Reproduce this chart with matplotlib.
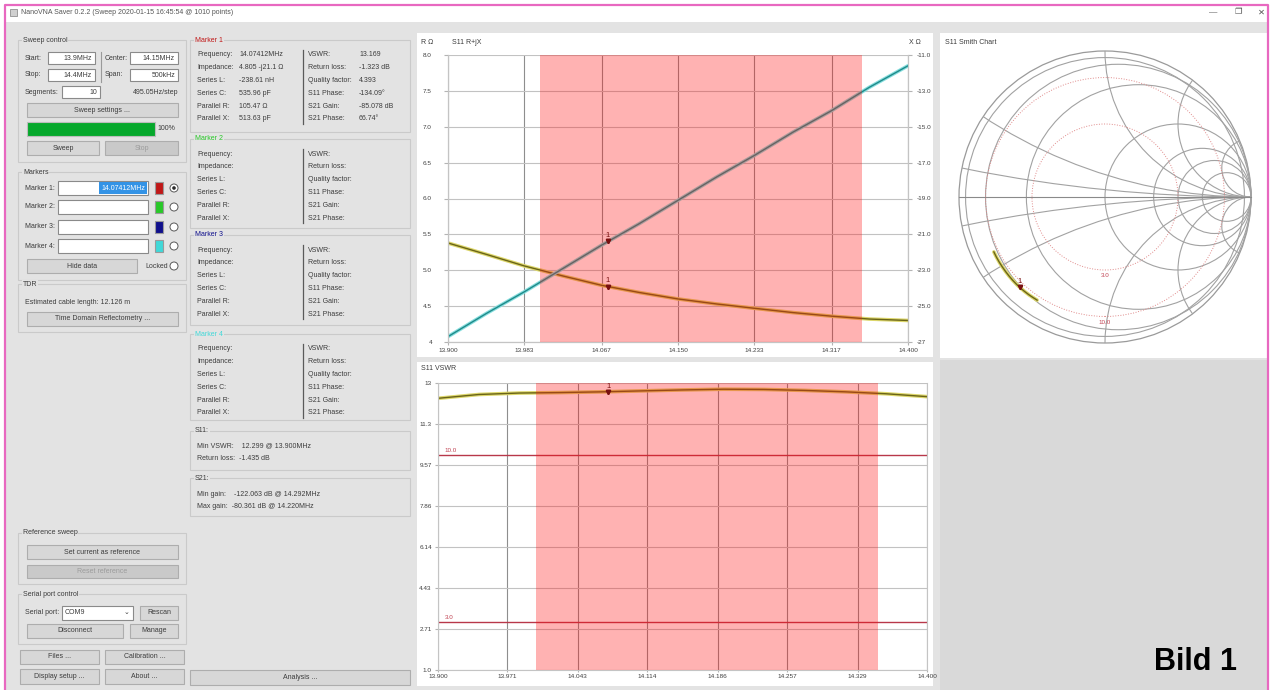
import numpy as np
import matplotlib
matplotlib.use('Agg')
import matplotlib.pyplot as plt
from matplotlib.patches import Rectangle, Circle

plt.rcParams['font.family'] = ['Liberation Sans', 'DejaVu Sans']

W, H = 1271, 690

# ---- sweep data (MHz, ohm) ----
freq_mhz = [13.900, 13.942, 13.983, 14.025, 14.067, 14.108, 14.150,
            14.192, 14.233, 14.275, 14.317, 14.358, 14.400]
r_ohm = [5.38, 5.22, 5.06, 4.92, 4.79, 4.69, 4.60, 4.53, 4.47, 4.41, 4.36, 4.32, 4.30]
x_ohm = [-26.7, -25.4, -24.2, -22.9, -21.6, -20.4, -19.1, -17.8, -16.6, -15.3, -14.1, -12.8, -11.6]
vswr = [12.36, 12.52, 12.58, 12.60, 12.63, 12.67, 12.71, 12.74, 12.73, 12.69, 12.63, 12.55, 12.43]

marker_mhz = 14.074
band_mhz = [14.000, 14.350]
vswr_limits = [10.0, 3.0]
vswr_limit_labels = ['10.0', '3.0']

rx_xticks = [13.900, 13.983, 14.067, 14.150, 14.233, 14.317, 14.400]
rx_xlabels = ['13.900', '13.983', '14.067', '14.150', '14.233', '14.317', '14.400']
r_ticks = [4.0, 4.5, 5.0, 5.5, 6.0, 6.5, 7.0, 7.5, 8.0]
r_labels = ['4', '4.5', '5.0', '5.5', '6.0', '6.5', '7.0', '7.5', '8.0']
x_ticks = [-27, -25, -23, -21, -19, -17, -15, -13, -11]
x_labels = ['-27', '-25.0', '-23.0', '-21.0', '-19.0', '-17.0', '-15.0', '-13.0', '-11.0']

vswr_xticks = [13.900, 13.971, 14.043, 14.114, 14.186, 14.257, 14.329, 14.400]
vswr_xlabels = ['13.900', '13.971', '14.043', '14.114', '14.186', '14.257', '14.329', '14.400']
vswr_yticks = [1.0, 2.71, 4.43, 6.14, 7.86, 9.57, 11.3, 13.0]
vswr_ylabels = ['1.0', '2.71', '4.43', '6.14', '7.86', '9.57', '11.3', '13']

smith_r = [0.1, 0.3, 1.0, 2.0, 3.0, 5.0]
smith_x = [0.1, 0.3, 1.0, 2.0, 5.0]

BODY = '#e3e3e3'
TXT = '#3c3c3c'
FS = 5.0
TICK_FS = 4.6

fig = plt.figure(figsize=(W / 100, H / 100), dpi=100)
fig.patch.set_facecolor('white')
bg = fig.add_axes([0, 0, 1, 1])
bg.set_xlim(0, W)
bg.set_ylim(H, 0)
bg.axis('off')


def px_axes(x0, y0, x1, y1):
    return fig.add_axes([x0 / W, 1 - y1 / H, (x1 - x0) / W, (y1 - y0) / H])


def rect(x0, y0, x1, y1, fc='none', ec='none', lw=0.8, z=1):
    bg.add_patch(Rectangle((x0, y0), x1 - x0, y1 - y0, fc=fc, ec=ec, lw=lw, zorder=z))


def ui_text(x, y, s, size=FS, color=TXT, **kw):
    bg.text(x, y, s, fontsize=size, color=color, va='center', zorder=5, **kw)


def frame(x0, y0, x1, y1, title=None, tcolor=TXT):
    rect(x0, y0, x1, y1, ec='#cacaca', lw=0.8, z=2)
    if title:
        bg.text(x0 + 5, y0, title, fontsize=FS, color=tcolor, va='center', zorder=5,
                bbox=dict(fc=BODY, ec='none', pad=0.5))


def button(x0, y0, x1, y1, s, enabled=True):
    rect(x0, y0, x1, y1, fc='#d7d7d7' if enabled else '#c9c9c9', ec='#adadad', z=3)
    bg.text((x0 + x1) / 2, (y0 + y1) / 2, s, ha='center', va='center', fontsize=FS,
            color=TXT if enabled else '#9c9c9c', zorder=5)


def entry(x0, y0, x1, y1, s=''):
    rect(x0, y0, x1, y1, fc='white', ec='#8a8a8a', z=3)
    if s:
        ui_text(x1 - 3, (y0 + y1) / 2 + 0.5, s, ha='right')


# ---- window chrome ----
rect(5, 5, 1268, 22, fc='white')
rect(5, 22, 1268, 690, fc=BODY)
rect(940, 360, 1268, 690, fc='#d9d9d9')
rect(10, 9, 17, 16, fc='#d0d0d0', ec='#909090', lw=0.6, z=3)
ui_text(21, 13, 'NanoVNA Saver 0.2.2 (Sweep 2020-01-15 16:45:54 @ 1010 points)', color='#555555')
ui_text(1213, 13, '\u2014', size=6, ha='center', color='#555555')
ui_text(1238, 13, '\u2750', size=6, ha='center', color='#555555')
ui_text(1261, 13, '\u2715', size=6, ha='center', color='#555555')
bg.plot([5, 5, 1268, 1268], [690, 5, 5, 690], color='#e868c0', lw=1.6, zorder=10)

# ---- left control panel ----
frame(18, 40, 186, 162, 'Sweep control')
ui_text(25, 58, 'Start:')
entry(48, 52, 95, 64, '13.9MHz')
ui_text(25, 75, 'Stop:')
entry(48, 69, 95, 81, '14.4MHz')
bg.plot([101, 101], [52, 82], color='#9a9a9a', lw=0.8, zorder=3)
ui_text(105, 58, 'Center:')
entry(130, 52, 178, 64, '14.15MHz')
ui_text(105, 75, 'Span:')
entry(130, 69, 178, 81, '500kHz')
ui_text(25, 92, 'Segments:')
entry(62, 86, 100, 98, '10')
ui_text(178, 92, '495.05Hz/step', ha='right')
button(27, 103, 178, 117, 'Sweep settings ...')
rect(27, 122, 155, 136, fc='#06a82c', ec='#bcbcbc', z=3)
ui_text(157, 129, '100%')
button(27, 141, 99, 155, 'Sweep')
button(105, 141, 178, 155, 'Stop', enabled=False)

frame(18, 172, 186, 280, 'Markers')
marker_colors = ['#c01818', '#28c828', '#10108c', '#40d8d8']
for i, (yy, mc) in enumerate(zip([188, 207, 227, 246], marker_colors)):
    ui_text(25, yy, 'Marker %d:' % (i + 1))
    entry(58, yy - 7, 148, yy + 7)
    rect(155, yy - 6, 163, yy + 6, fc=mc, ec='#9a9a9a', z=3)
    bg.add_patch(Circle((174, yy), 4, fc='white', ec='#5a5a5a', lw=0.7, zorder=4))
    if i == 0:
        rect(99, yy - 6, 147, yy + 6, fc='#3393e6', z=4)
        ui_text(145, yy, '14.07412MHz', color='white', ha='right')
        bg.add_patch(Circle((174, yy), 1.8, fc='#2a2a2a', ec='none', zorder=5))
button(27, 259, 137, 273, 'Hide data')
ui_text(145, 266, 'Locked')
bg.add_patch(Circle((174, 266), 4, fc='white', ec='#5a5a5a', lw=0.7, zorder=4))

frame(18, 284, 186, 332, 'TDR')
ui_text(25, 303, 'Estimated cable length: 12.126 m')
button(27, 312, 178, 326, 'Time Domain Reflectometry ...')

frame(18, 533, 186, 584, 'Reference sweep')
button(27, 545, 178, 559, 'Set current as reference')
button(27, 565, 178, 578, 'Reset reference', enabled=False)

frame(18, 594, 186, 644, 'Serial port control')
ui_text(25, 613, 'Serial port:')
entry(62, 606, 133, 620)
ui_text(65, 613, 'COM9')
ui_text(129, 612, '\u2304', size=5, ha='right')
button(140, 606, 178, 620, 'Rescan')
button(27, 624, 123, 638, 'Disconnect')
button(130, 624, 178, 638, 'Manage')

button(20, 650, 99, 664, 'Files ...')
button(105, 650, 184, 664, 'Calibration ...')
button(20, 669, 99, 684, 'Display setup ...')
button(105, 669, 184, 684, 'About ...')

# ---- marker readout panel ----
left_rows = ['Frequency:', 'Impedance:', 'Series L:', 'Series C:', 'Parallel R:', 'Parallel X:']
right_rows = ['VSWR:', 'Return loss:', 'Quality factor:', 'S11 Phase:', 'S21 Gain:', 'S21 Phase:']
m1_left = ['14.07412MHz', '4.805 -j21.1 \u03a9', '-238.61 nH', '535.96 pF', '105.47 \u03a9', '513.63 pF']
m1_right = ['13.169', '-1.323 dB', '4.393', '-134.09\u00b0', '-85.078 dB', '66.74\u00b0']
marker_boxes = [(40, 132), (139, 228), (235, 325), (334, 420)]
for i, ((y0, y1), mc) in enumerate(zip(marker_boxes, marker_colors)):
    frame(190, y0, 410, y1, 'Marker %d' % (i + 1), tcolor=mc)
    rows = [y0 + 15 + 12.8 * k for k in range(6)]
    bg.plot([303, 303], [rows[0] - 5, rows[-1] + 5], color='#5a5a5a', lw=0.9, zorder=3)
    for k, yy in enumerate(rows):
        ui_text(197, yy, left_rows[k])
        ui_text(308, yy, right_rows[k])
        if i == 0:
            ui_text(239, yy, m1_left[k])
            ui_text(359, yy, m1_right[k])
frame(190, 431, 410, 470, 'S11:')
ui_text(197, 446, 'Min VSWR:    12.299 @ 13.900MHz')
ui_text(197, 459, 'Return loss:  -1.435 dB')
frame(190, 478, 410, 516, 'S21:')
ui_text(197, 494, 'Min gain:    -122.063 dB @ 14.292MHz')
ui_text(197, 507, 'Max gain:  -80.361 dB @ 14.220MHz')
button(190, 670, 410, 685, 'Analysis ...')

# ---- chart panels ----
rect(417, 33, 933, 357, fc='white', z=2)
rect(417, 362, 933, 686, fc='white', z=2)
rect(940, 33, 1268, 358, fc='white', z=2)
ui_text(421, 43, 'R \u03a9')
ui_text(452, 43, 'S11 R+jX')
ui_text(921, 43, 'X \u03a9', ha='right')
ui_text(421, 369, 'S11 VSWR')
ui_text(945, 43, 'S11 Smith Chart')

R_COL = ('#dcd66a', '#6a6418')
X_COL = ('#86dede', '#1f8a8a')
BAND = dict(color='#ff1010', alpha=0.32, lw=0, zorder=3)


def style(ax):
    for side in ['left', 'right', 'bottom']:
        ax.spines[side].set_color('#c4c4c4')
        ax.spines[side].set_linewidth(0.8)
    ax.spines['top'].set_visible(False)
    ax.set_facecolor('none')


def trace(ax, xs, ys, cols):
    ax.plot(xs, ys, color=cols[0], lw=2.6, zorder=2, solid_capstyle='round')
    ax.plot(xs, ys, color=cols[1], lw=1.0, zorder=2.1)


def marker_tag(ax, xv, yv):
    ax.plot([xv, xv], [yv, yv], marker='v', ms=3, color='#7a1010', zorder=5)
    ax.annotate('1', (xv, yv), xytext=(0, 1.5), textcoords='offset points', ha='center',
                va='bottom', fontsize=5.5, color='#7a1010', zorder=5)


# R + jX chart
ax_r = px_axes(448, 55, 908, 342)
style(ax_r)
ax_r.set_xlim(13.9, 14.4)
ax_r.set_ylim(4.0, 8.0)
ax_r.set_xticks(rx_xticks, rx_xlabels)
ax_r.set_yticks(r_ticks, r_labels)
ax_r.grid(axis='y', color='#c2c2c2', lw=0.8)
ax_r.grid(axis='x', color='#8e8e8e', lw=0.8)
ax_r.set_axisbelow(True)
ax_r.tick_params(axis='y', labelsize=TICK_FS, labelcolor='#404040', color='#b4b4b4', length=3, pad=8.5)
ax_r.tick_params(axis='x', labelsize=TICK_FS, labelcolor='#404040', color='#b4b4b4', length=2, pad=2)
trace(ax_r, freq_mhz, r_ohm, R_COL)

ax_x = ax_r.twinx()
style(ax_x)
ax_x.set_ylim(-27, -11)
ax_x.set_yticks(x_ticks, x_labels)
ax_x.tick_params(axis='y', labelsize=TICK_FS, labelcolor='#404040', color='#b4b4b4', length=3, pad=3.5)
trace(ax_x, freq_mhz, x_ohm, X_COL)
ax_x.axvspan(band_mhz[0], band_mhz[1], **BAND)
# the twin has its own y scale, so the R marker goes through the R axis coordinates
r_mark = np.interp(marker_mhz, freq_mhz, r_ohm)
x_mark = np.interp(marker_mhz, freq_mhz, x_ohm)
marker_tag(ax_x, marker_mhz, x_mark)
marker_tag(ax_x, marker_mhz, -27 + (r_mark - 4.0) * 4.0)

# VSWR chart
ax_v = px_axes(438, 383, 927, 670)
style(ax_v)
ax_v.set_xlim(13.9, 14.4)
ax_v.set_ylim(1.0, 13.0)
ax_v.set_xticks(vswr_xticks, vswr_xlabels)
ax_v.set_yticks(vswr_yticks, vswr_ylabels)
ax_v.grid(axis='y', color='#c2c2c2', lw=0.8)
ax_v.grid(axis='x', color='#8e8e8e', lw=0.8)
ax_v.set_axisbelow(True)
ax_v.tick_params(axis='y', labelsize=TICK_FS, labelcolor='#404040', color='#b4b4b4', length=2, pad=2.5)
ax_v.tick_params(axis='x', labelsize=TICK_FS, labelcolor='#404040', color='#b4b4b4', length=1.5, pad=1.5)
for lim, lab in zip(vswr_limits, vswr_limit_labels):
    ax_v.axhline(lim, color='#b8384a', lw=1.0, zorder=2)
    ax_v.annotate(lab, (13.9, lim), xytext=(5, 1.5), textcoords='offset points',
                  fontsize=4.5, color='#c04050', va='bottom')
trace(ax_v, freq_mhz, vswr, R_COL)
ax_v.axvspan(band_mhz[0], band_mhz[1], **BAND)
marker_tag(ax_v, marker_mhz, np.interp(marker_mhz, freq_mhz, vswr))

# Smith chart
ax_s = px_axes(945, 37, 1265, 357)
lim = 160 / 146
ax_s.set_xlim(-lim, lim)
ax_s.set_ylim(-lim, lim)
ax_s.axis('off')
GRID = dict(fill=False, ec='#a2a2a2', lw=0.8)
unit = Circle((0, 0), 1.0, fill=False, ec='#9a9a9a', lw=0.9)
ax_s.add_patch(unit)
ax_s.add_patch(Circle((0, 0), 0.955, **GRID))
for r in smith_r:
    ax_s.add_patch(Circle((r / (1 + r), 0), 1 / (1 + r), **GRID))
for xv in smith_x:
    for sgn in (1, -1):
        arc = Circle((1, sgn / xv), 1 / xv, **GRID)
        ax_s.add_patch(arc)
        arc.set_clip_path(unit)
ax_s.plot([-1, 1], [0, 0], color='#8a8a8a', lw=0.8)
for lim_v, lab in zip(vswr_limits, vswr_limit_labels):
    g = (lim_v - 1) / (lim_v + 1)
    ax_s.add_patch(Circle((0, 0), g, fill=False, ec='#e08a8a', lw=0.7, ls=':'))
    ax_s.text(0, -g - 0.04, lab, fontsize=4.5, color='#c04050', ha='center', va='center')

z = (np.array(r_ohm) + 1j * np.array(x_ohm)) / 50.0
gam = (z - 1) / (z + 1)
trace(ax_s, gam.real, gam.imag, R_COL)
zm = (r_mark + 1j * x_mark) / 50.0
gm = (zm - 1) / (zm + 1)
marker_tag(ax_s, gm.real, gm.imag)

# caption
bg.text(1237, 670, 'Bild 1', fontsize=22, fontweight='bold',
        ha='right', va='baseline', color='black', zorder=6)

fig.savefig('out.png', dpi=100, facecolor='white')
